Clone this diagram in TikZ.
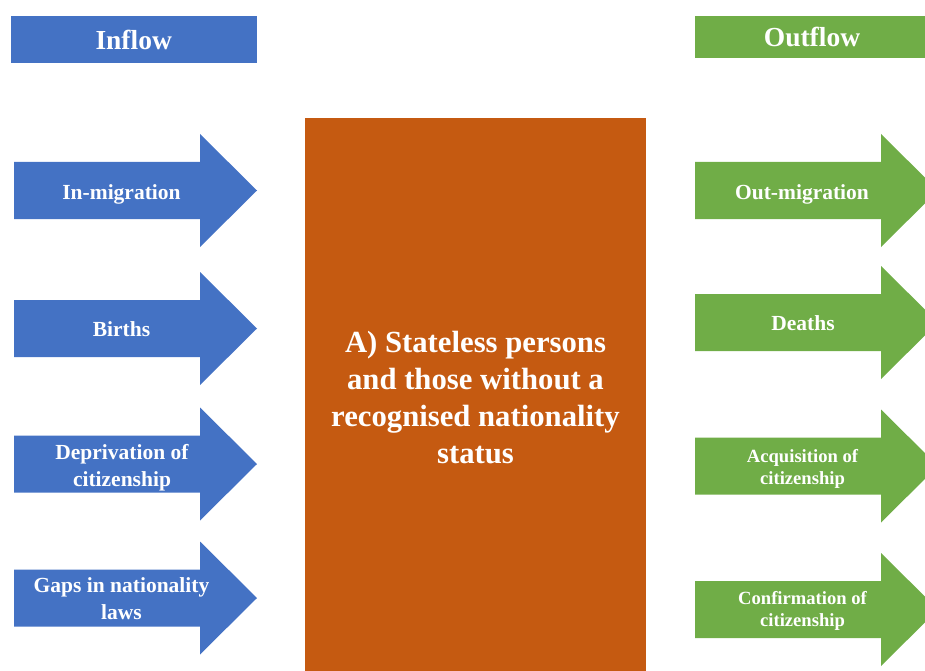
\documentclass[tikz,border=0pt]{standalone}
\usepackage{fontspec}
\setmainfont{Liberation Serif}
\definecolor{inblue}{HTML}{4472C4}
\definecolor{outgreen}{HTML}{70AD47}
\definecolor{stockorange}{HTML}{C55A11}
\newcommand\flowarrow[4]{%
  \fill[#1] (#2,#4-28.5) -- (#3,#4-28.5) -- (#3,#4-56.5) -- (#3+57,#4)
    -- (#3,#4+56.5) -- (#3,#4+28.5) -- (#2,#4+28.5) -- cycle;}
\tikzset{
  txt/.style={text=white, inner sep=0pt, align=center, font=\bfseries\fontsize{21.5}{26.5}\selectfont},
  smalltxt/.style={txt, font=\bfseries\fontsize{18.6}{22.5}\selectfont},
  titletxt/.style={txt, font=\bfseries\fontsize{27.5}{33}\selectfont},
  bigtxt/.style={txt, font=\bfseries\fontsize{30.7}{37}\selectfont},
}
\begin{document}
\begin{tikzpicture}[x=1pt,y=-1pt]
\useasboundingbox (0,0) rectangle (925,671);
\clip (0,0) rectangle (925,671);
% headers
\fill[inblue] (10.7,15.7) rectangle (256.7,63);
\node[titletxt, anchor=base] (inflow) at (133.7,50) {Inflow};
\fill[outgreen] (695,15.7) rectangle (930,57.7);
\node[titletxt, anchor=base] (outflow) at (812,47) {Outflow};
% central stock
\fill[stockorange] (305,118) rectangle (646,675);
\node[bigtxt] (stock) at (475.5,398) {A) Stateless persons\\and those without a\\recognised nationality\\status};
% inflow arrows
\flowarrow{inblue}{14}{200}{190.5}
\flowarrow{inblue}{14}{200}{328.5}
\flowarrow{inblue}{14}{200}{464}
\flowarrow{inblue}{14}{200}{598}
\node[txt, anchor=base] (inmig) at (121.5,199) {In-migration};
\node[txt, anchor=base] (births) at (121.5,336) {Births};
\node[txt] (depriv) at (122,467.5) {Deprivation of\\citizenship};
\node[txt] (gaps) at (121.5,598.6) {Gaps in nationality\\laws};
% outflow arrows
\flowarrow{outgreen}{695}{881}{190.5}
\flowarrow{outgreen}{695}{881}{322.5}
\flowarrow{outgreen}{695}{881}{466}
\flowarrow{outgreen}{695}{881}{609.5}
\node[txt, anchor=base] (outmig) at (802,199) {Out-migration};
\node[txt, anchor=base] (deaths) at (803,330) {Deaths};
\node[smalltxt] (acq) at (802.5,468.7) {Acquisition of\\citizenship};
\node[smalltxt] (conf) at (802.5,611) {Confirmation of\\citizenship};
\end{tikzpicture}
\end{document}
